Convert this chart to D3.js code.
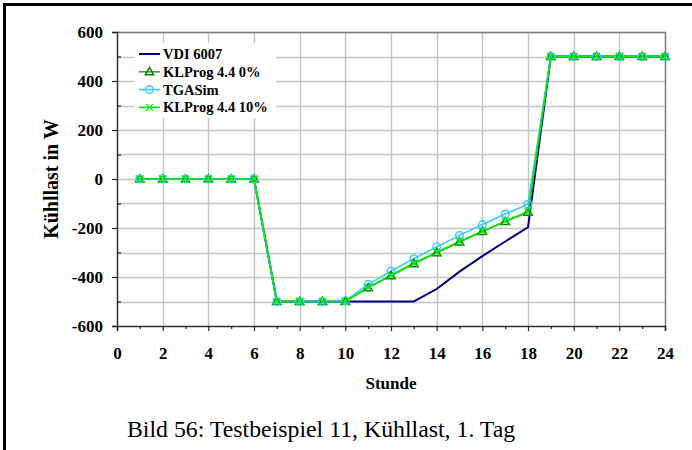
<!DOCTYPE html>
<html><head><meta charset="utf-8">
<script src="https://cdn.jsdelivr.net/npm/d3@7"></script>
<style>body{margin:0;background:#fff}svg{display:block}</style>
</head><body>
<svg id="c" width="692" height="450"></svg>
<script>
const hours = [1,2,3,4,5,6,7,8,9,10,11,12,13,14,15,16,17,18,19,20,21,22,23,24];
const vdi6007 = [0,0,0,0,0,0,-500,-500,-500,-500,-500,-500,-500,-449,-378,-315,-255,-197,500,500,500,500,500,500];
const klprog0 = [0,0,0,0,0,0,-500,-500,-500,-500,-444,-395,-346,-301,-257,-215,-174,-136,500,500,500,500,500,500];
const tgasim  = [0,0,0,0,0,0,-500,-500,-500,-497,-430,-376,-325,-277,-230,-186,-143,-103,500,500,500,500,500,500];
const klprog10 = [0,0,0,0,0,0,-500,-500,-500,-500,-442,-393,-344,-299,-255,-213,-172,-134,500,500,500,500,500,500];
const xTicks = [0,2,4,6,8,10,12,14,16,18,20,22,24];
const yTicks = [-600,-400,-200,0,200,400,600];
const seriesNames = ["VDI 6007","KLProg 4.4 0%","TGASim","KLProg 4.4 10%"];

const svg = d3.select("#c");
const font = "'Liberation Serif','Times New Roman',serif";
// outer frame
svg.append("path").attr("d","M4.5,450 V4.5 H692").attr("fill","none").attr("stroke","#000").attr("stroke-width",3);

const x = d3.scaleLinear().domain([0,24]).range([117,665]);
const y = d3.scaleLinear().domain([-600,600]).range([326,32]);

// grid
const g = svg.append("g");
g.selectAll(".gy").data(d3.range(-500,601,100)).enter().append("line")
 .attr("x1",x(0)).attr("x2",x(24)).attr("y1",d=>Math.round(y(d))+0.5).attr("y2",d=>Math.round(y(d))+0.5)
 .attr("stroke","#c4c4c4").attr("stroke-width",1.4);
g.selectAll(".gx").data(d3.range(2,25,2)).enter().append("line")
 .attr("y1",y(-600)).attr("y2",y(600)).attr("x1",d=>Math.round(x(d))+0.5).attr("x2",d=>Math.round(x(d))+0.5)
 .attr("stroke","#c4c4c4").attr("stroke-width",1.4);
// plot frame top/right
svg.append("path").attr("d",`M${x(0)},${Math.round(y(600))+0.5} H${Math.round(x(24))+0.5} V${y(-600)}`)
 .attr("fill","none").attr("stroke","#808080").attr("stroke-width",1.4);

// axes
const fmt = d => String(d);
const yAxis = d3.axisLeft(y).tickValues(yTicks).tickSize(5).tickPadding(9).tickFormat(fmt);
const ya = svg.append("g").attr("transform",`translate(${x(0)},0)`).call(yAxis);
const xAxis = d3.axisBottom(x).tickValues(xTicks).tickSize(5).tickPadding(16).tickFormat(fmt);
const xa = svg.append("g").attr("transform",`translate(0,${y(-600)})`).call(xAxis);
// minor ticks
const yMinor = d3.axisLeft(y).tickValues(d3.range(-500,600,200)).tickSize(-4).tickFormat("");
svg.append("g").attr("transform",`translate(${x(0)},0)`).call(yMinor).select(".domain").remove();
const xMinor = d3.axisBottom(x).tickValues(d3.range(1,24,2)).tickSize(3).tickFormat("");
svg.append("g").attr("transform",`translate(0,${y(-600)})`).call(xMinor).select(".domain").remove();
svg.selectAll(".tick line").attr("stroke","#222").attr("stroke-width",1.2);
[ya,xa].forEach(a=>{a.select(".domain").attr("stroke","#333").attr("stroke-width",1.5);
 a.selectAll("text").attr("font-family",font).attr("font-weight","bold").attr("font-size",17).attr("fill","#000");});

// titles
svg.append("text").attr("transform",`translate(58,${y(0)}) rotate(-90)`).attr("text-anchor","middle")
 .attr("font-family",font).attr("font-weight","bold").attr("font-size",20).text("Kühllast in W");
svg.append("text").attr("x",(x(0)+x(24))/2).attr("y",389).attr("text-anchor","middle")
 .attr("font-family",font).attr("font-weight","bold").attr("font-size",17).text("Stunde");
svg.append("text").attr("x",127).attr("y",437)
 .attr("font-family",font).attr("font-size",23.8).text("Bild 56: Testbeispiel 11, Kühllast, 1. Tag");

// series
const styles = [
 {data:vdi6007, color:"#000080", marker:null, mstroke:null},
 {data:klprog0, color:"#3a9e3a", marker:"tri", mstroke:"#008000", mfill:"none"},
 {data:tgasim, color:"#33ccff", marker:"circ", mstroke:"#33ccff", mfill:"none"},
 {data:klprog10, color:"#00ee00", marker:"x", mstroke:"#00ee00"}
];
const line = d3.line().x((d,i)=>x(hours[i])).y(d=>y(d));
const sym = {tri:d3.symbol().type(d3.symbolTriangle).size(32), circ:d3.symbol().type(d3.symbolCircle).size(45)};
function drawMarker(sel, s, cx, cy){
 if(!s.marker) return;
 if(s.marker==="x"){
   const r=3.5;
   sel.append("path").attr("d",`M${cx-r},${cy-r}L${cx+r},${cy+r}M${cx-r},${cy+r}L${cx+r},${cy-r}`)
     .attr("stroke",s.mstroke).attr("stroke-width",1.3).attr("fill","none");
 } else {
   sel.append("path").attr("d",sym[s.marker]()).attr("transform",`translate(${cx},${cy+(s.marker==="tri"?0.5:0)})`)
     .attr("stroke",s.mstroke).attr("stroke-width",1.4).attr("fill",s.mfill);
 }
}
const plot = svg.append("g");
styles.forEach(s=>{
 plot.append("path").datum(s.data).attr("d",line).attr("fill","none").attr("stroke",s.color).attr("stroke-width",s.marker?1.6:2);
});
styles.forEach(s=>{
 s.data.forEach((v,i)=>drawMarker(plot,s,x(hours[i]),y(v)));
});

// legend
const lg = svg.append("g");
lg.append("rect").attr("x",134).attr("y",43).attr("width",142).attr("height",75).attr("fill","#fff");
seriesNames.forEach((n,i)=>{
 const ly = 54 + i*17.8, s = styles[i];
 lg.append("line").attr("x1",139).attr("x2",160).attr("y1",ly).attr("y2",ly).attr("stroke",s.color).attr("stroke-width",s.marker?1.6:2);
 drawMarker(lg,s,149.5,ly);
 lg.append("text").attr("x",163).attr("y",ly+5).attr("font-family",font).attr("font-weight","bold").attr("font-size",14.5).text(n);
});
</script>
</body></html>
